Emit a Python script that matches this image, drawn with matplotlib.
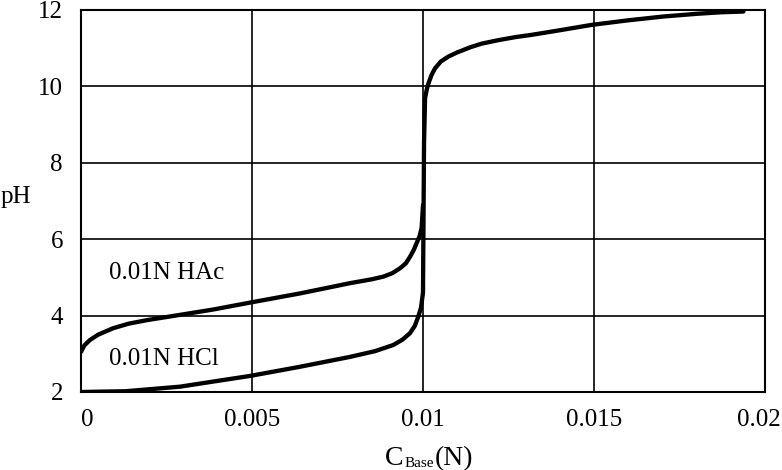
import matplotlib
matplotlib.use("Agg")
import matplotlib.pyplot as plt
from matplotlib.transforms import ScaledTranslation

plt.rcParams['font.family'] = ['Liberation Serif', 'DejaVu Serif']

# HAc titration
hac_x = [0.0, 0.0001, 0.00026, 0.0005, 0.00094, 0.0014, 0.00192, 0.0029, 0.00387,
         0.00494, 0.0064, 0.00787, 0.0085, 0.00884, 0.0091, 0.00933, 0.0095,
         0.00962, 0.00973, 0.00981, 0.0099, 0.00996, 0.0100]
hac_ph = [3.05, 3.22, 3.36, 3.5, 3.67, 3.79, 3.88, 4.02, 4.16,
          4.34, 4.58, 4.85, 4.95, 5.02, 5.11, 5.24, 5.37,
          5.54, 5.72, 5.89, 6.08, 6.3, 6.9]

# HCl titration
hcl_x = [0.0, 0.0013, 0.0029, 0.00406, 0.00494, 0.0064, 0.00787, 0.0086,
         0.00913, 0.0094, 0.00962, 0.00976, 0.00986, 0.00994, 0.0100]
hcl_ph = [2.0, 2.02, 2.14, 2.3, 2.42, 2.66, 2.92, 3.07,
          3.23, 3.37, 3.54, 3.73, 3.97, 4.2, 4.6]

# common branch past equivalence
base_x = [0.0100, 0.01003, 0.01006, 0.01011, 0.01016, 0.01025, 0.01035, 0.01052,
          0.01074, 0.0110, 0.0114, 0.01172, 0.0122, 0.0127, 0.01318, 0.0140,
          0.01493, 0.0160, 0.01703, 0.0180, 0.0187, 0.01937]
base_ph = [4.6, 8.5, 9.69, 9.92, 10.08, 10.3, 10.47, 10.65,
           10.78, 10.89, 11.03, 11.12, 11.21, 11.29, 11.35, 11.47,
           11.61, 11.73, 11.83, 11.9, 11.94, 11.96]

xticks = [0, 0.005, 0.01, 0.015, 0.02]
xticklabels = ['0', '0.005', '0.01', '0.015', '0.02']
yticks = [2, 4, 6, 8, 10, 12]

fig = plt.figure(figsize=(7.82, 4.70), dpi=100)
ax = fig.add_axes([81/782, 1 - 392/470, (765 - 81)/782, (392 - 10)/470])

lw = 3.1
kw = dict(color='black', lw=lw, solid_capstyle='round', solid_joinstyle='round')
ax.plot(hac_x, hac_ph, **kw)
ax.plot(hcl_x, hcl_ph, **kw)
ax.plot(base_x, base_ph, **kw)

ax.set_xlim(0, 0.02)
ax.set_ylim(2, 12)
ax.set_xticks(xticks)
ax.set_xticklabels(xticklabels)
ax.set_yticks(yticks)
ax.grid(True, color='black', lw=1.2)
ax.tick_params(axis='both', length=0, labelsize=18, colors='black')
ax.tick_params(axis='x', pad=12)
ax.tick_params(axis='y', pad=13)
for s in ax.spines.values():
    s.set_linewidth(1.5)
    s.set_color('black')

# nudge first and last x labels like the reference
labs = ax.get_xticklabels()
labs[0].set_transform(labs[0].get_transform() + ScaledTranslation(6/100, 0, fig.dpi_scale_trans))
labs[-1].set_transform(labs[-1].get_transform() + ScaledTranslation(-6/100, 0, fig.dpi_scale_trans))

ax.text(0.00082, 5.12, '0.01N HAc', fontsize=18, va='center', ha='left')
ax.text(0.00082, 2.86, '0.01N HCl', fontsize=18, va='center', ha='left')

fig.text(1/782, 1 - 197/470, 'pH', fontsize=18, ha='left', va='center')

# x label: C_Base(N) built from pieces
yb = 5/470
t1 = fig.text(385/782, yb, 'C', fontsize=20, ha='left', va='baseline')
fig.canvas.draw()
r = fig.canvas.get_renderer()
e1 = t1.get_window_extent(r)
t2 = fig.text(e1.x1/782 + 1/782, yb - 2/470, 'Base', fontsize=11, ha='left', va='baseline')
e2 = t2.get_window_extent(r)
t3 = fig.text(e2.x1/782 + 1/782, yb, '(N)', fontsize=20, ha='left', va='baseline')

fig.savefig('out.png', dpi=100)
